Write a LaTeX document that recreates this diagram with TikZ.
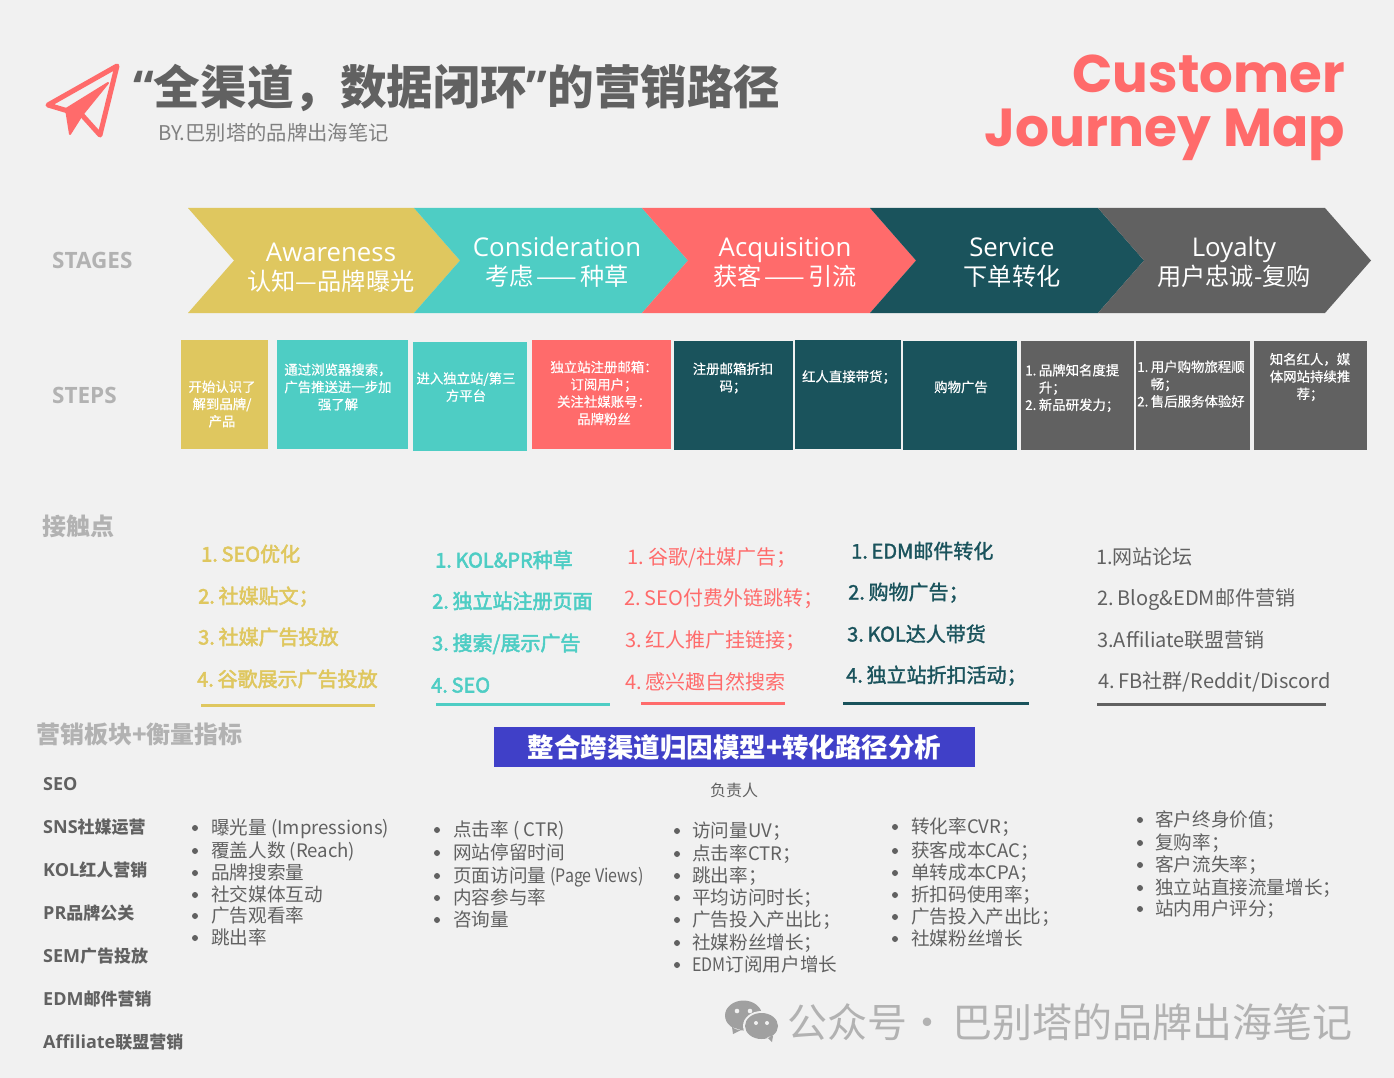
\documentclass[tikz,border=0pt]{standalone}
\usepackage{fontspec}
\setmainfont{Noto Sans CJK SC}
\newfontfamily\opensans{Open Sans}
\newfontfamily\poppins{Poppins}
\newfontfamily\fakebold[FakeBold=2.6,WordSpace=0.5]{Noto Sans CJK SC}
\newfontfamily\fakemedium[FakeBold=1.6,WordSpace=0.5]{Noto Sans CJK SC}
\newfontfamily\touchreg[WordSpace=0.5]{Noto Sans CJK SC}
\newfontfamily\stepfont[FakeBold=0.6,WordSpace=0.5]{Noto Sans CJK SC}
\newfontfamily\narrowlat[FakeStretch=0.86]{Noto Sans CJK SC}
\definecolor{bgGray}{HTML}{F1F1F1}
\definecolor{cYellow}{HTML}{DFC75F}
\definecolor{cTeal}{HTML}{4ECDC4}
\definecolor{cRed}{HTML}{FF6B6B}
\definecolor{cDark}{HTML}{1A535C}
\definecolor{cGray}{HTML}{616161}
\definecolor{cLight}{HTML}{B2B2B2}
\definecolor{cBlue}{HTML}{4040C8}
\newcommand{\fs}[1]{\fontsize{#1}{#1}\selectfont}
\tikzset{
  x=1pt,y=-1pt,
  txt/.style={inner sep=0pt,anchor=west},
  stagetxt/.style={inner sep=0pt,text=white,text height=25pt,text depth=6pt,font=\opensans\fs{25.8}},
  stagecjk/.style={inner sep=0pt,text=white,font=\fs{24.2}},
  steptxt/.style={inner sep=0pt,text=white,align=center,font=\stepfont\fontsize{13.4}{17.3}\selectfont},
  stepleft/.style={steptxt,align=left,anchor=west},
  sidelabel/.style={txt,text=cLight,font=\opensans\bfseries\fs{22.5}},
  sidehead/.style={txt,text=cLight,font=\bfseries\fs{24}},
  rolelabel/.style={txt,text=cGray,text height=15pt,text depth=2pt,font=\bfseries\fs{17}},
  touch/.style={txt,text height=18pt,text depth=3pt,font=\touchreg\fs{20}},
  touchbold/.style={touch,font=\fakebold\fs{20}},
  touchmedium/.style={touch,font=\fakemedium\fs{20}},
  brand/.style={inner sep=0pt,anchor=base east,text=cRed,font=\poppins\bfseries\fs{53}},
  rule/.style={line width=3pt},
  metric/.style={txt,text=cGray,text height=17pt,text depth=3pt,font=\fs{18.6}},
  dotmark/.style={circle,fill=cGray,inner sep=0pt,minimum size=6pt},
}
\begin{document}
\begin{tikzpicture}
\useasboundingbox (0,0) rectangle (1394,1078);
\fill[bgGray] (0,0) rectangle (1394,1078);
% plane
\draw[cRed,line width=5pt,line join=round] (117,66) -- (48,105) -- (68,111) -- (82,115) -- (100,135) -- cycle;
\fill[cRed,line join=round,draw=cRed,line width=2pt] (66,109) -- (108,83) -- (82,115) -- (70,134) -- cycle;
% title
\node (title) [txt,text=cGray,font=\bfseries\fs{46.6}] at (133,88) {{\opensans “}全渠道，数据闭环{\opensans ”}的营销路径};
\node (byline) [txt,text=gray,font=\fs{20.3}] at (158,133) {BY.巴别塔的品牌出海笔记};
\node (brandA) [brand] at (1345,93) {Customer};
\node (brandB) [brand,font=\poppins\bfseries\fs{53.5}] at (1345,147) {Journey Map};
% stages
\foreach \xa/\xb/\col in {188/414/cYellow,414/642/cTeal,642/870/cRed,870/1098/cDark,1098/1325/cGray}
  \fill[\col] (\xa,208) -- (\xb,208) -- (\xb+46,260.5) -- (\xb,313) -- (\xa,313) -- (\xa+46,260.5) -- cycle;
\node (lblStages) [sidelabel] at (52,260) {STAGES};
\node (lblSteps) [sidelabel] at (52,395) {STEPS};
\foreach \n/\x/\y/\en/\cn in {a/331/252/Awareness/认知—品牌曝光,b/557/247/Consideration/考虑\hspace{3pt}——\hspace{3pt}种草,c/785/247/Acquisition/获客\hspace{3pt}——\hspace{3pt}引流,d/1012/247/Service/下单转化,e/1234/247/Loyalty/用户忠诚-复购}{
  \node (stage\n) [stagetxt] at (\x,\y) {\en};
  \node (stagecn\n) [stagecjk] at (\x,\y+29) {\cn};
}
% steps
\foreach \n/\xa/\ya/\xb/\yb/\col in {a/181/340/268/449/cYellow,b/277/340/408/449/cTeal,c/413/342/527/451/cTeal,d/532/340/671/449/cRed,e/674/341/793/450/cDark,f/795/340/901/449/cDark,g/903/341/1017/450/cDark,h/1021/341/1134/450/cGray,i/1136/341/1250/450/cGray,j/1254/341/1367/450/cGray}
  \node (step\n) [inner sep=0pt,fill=\col,minimum width=\xb pt-\xa pt,minimum height=\yb pt-\ya pt] at ({(\xa+\xb)/2},{(\ya+\yb)/2}) {};
\node (txtA) [steptxt] at (222,404) {开始认识了\\解到品牌/\\产品};
\node (txtB) [steptxt] at (338,387) {通过浏览器搜索，\\广告推送进一步加\\强了解};
\node (txtC) [steptxt] at (466,387) {进入独立站/第三\\方平台};
\node (txtD) [steptxt] at (604,393) {独立站注册邮箱：\\订阅用户；\\关注社媒账号：\\品牌粉丝};
\node (txtE) [steptxt] at (733,378) {注册邮箱折扣\\码；};
\node (txtF) [steptxt] at (849,377) {红人直接带货；};
\node (txtG) [steptxt] at (961,387) {购物广告};
\node (txtH) [stepleft] at (1025,388) {1. 品牌知名度提\\\phantom{1. }升；\\2. 新品研发力；};
\node (txtI) [stepleft] at (1137,384) {1. 用户购物旅程顺\\\phantom{1. }畅；\\2. 售后服务体验好};
\node (txtJ) [steptxt] at (1310,377) {知名红人，媒\\体网站持续推\\荐；};
% touch points
\node (lblTouch) [sidehead] at (42,526) {接触点};
\foreach \n/\x/\y/\t in {a/201/554/1. SEO优化,b/198/596/2. 社媒贴文；,c/198/637/3. 社媒广告投放,d/197/679/4. 谷歌展示广告投放}
  \node (tpY\n) [touchbold,text=cYellow] at (\x,\y) {\t};
\foreach \n/\x/\y/\t in {a/435/560/1. KOL\&PR种草,b/432/601/2. 独立站注册页面,c/432/643/3. 搜索{/}展示广告,d/431/685/4. SEO}
  \node (tpT\n) [touchbold,text=cTeal] at (\x,\y) {\t};
\foreach \n/\x/\y/\t in {a/627/557/1.\ \ 谷歌{/}社媒广告；,b/624/598/2. SEO付费外链跳转；,c/625/640/3. 红人推广挂链接；,d/625/682/4. 感兴趣自然搜索}
  \node (tpR\n) [touch,text=cRed] at (\x,\y) {\t};
\foreach \n/\x/\y/\t in {a/851/551/1. EDM邮件转化,b/848/592/2. 购物广告；,c/847/634/3. KOL达人带货,d/846/675/4. 独立站折扣活动；}
  \node (tpD\n) [touchmedium,text=cDark] at (\x,\y) {\t};
\foreach \n/\x/\y/\t in {a/1096/557/1.网站论坛,b/1097/598/2. Blog\&EDM邮件营销,c/1097/640/3.Affiliate联盟营销,d/1098/681/4. FB社群{/}Reddit{/}Discord}
  \node (tpG\n) [touch,text=cGray] at (\x,\y) {\t};
\draw[rule,cYellow] (201,705) -- (375,705);
\draw[rule,cTeal] (436,704) -- (610,704);
\draw[rule,cRed] (641,703) -- (785,703);
\draw[rule,cDark] (843,703) -- (1029,703);
\draw[rule,cGray] (1097,704) -- (1326,704);
% metrics
\node (lblMetric) [sidehead] at (36,734) {营销板块+衡量指标};
\node (banner) [inner sep=0pt,fill=cBlue,minimum width=481pt,minimum height=40pt,text=white,font=\bfseries\fs{26.5}] at (734.5,747) {整合跨渠道归因模型+转化路径分析};
\node (owner) [text=cGray,inner sep=0pt,font=\fs{16}] at (734,790) {负责人};
\foreach \n/\y/\la/\cn in {a/784/SEO/,b/827/SNS/社媒运营,c/870/KOL/红人营销,d/913/PR/品牌公关,e/956/SEM/广告投放,f/999/EDM/邮件营销,g/1042/Affiliate/联盟营销}
  \node (role\n) [rolelabel] at (43,\y) {{\opensans\fs{18}\la}\cn};
\foreach \n/\y/\t in {a/827/曝光量 (Impressions),b/850/覆盖人数 (Reach),c/872/品牌搜索量,d/894/社交媒体互动,e/915/广告观看率,f/937/跳出率}{
  \node (dotA\n) [dotmark] at (195,\y+1) {};
  \node (metA\n) [metric] at (211,\y) {\t};
}
\foreach \n/\y/\t in {a/829/点击率 ( CTR),b/852/网站停留时间,c/875/页面访问量 {\narrowlat (Page Views)},d/897/内容参与率,e/919/咨询量}{
  \node (dotB\n) [dotmark] at (437,\y+1) {};
  \node (metB\n) [metric] at (453,\y) {\t};
}
\foreach \n/\y/\t in {a/830/访问量UV；,b/853/点击率CTR；,c/875/跳出率；,d/897/平均访问时长；,e/919/广告投入产出比；,f/942/社媒粉丝增长；,g/964/{\narrowlat EDM}订阅用户增长}{
  \node (dotC\n) [dotmark] at (677,\y+1) {};
  \node (metC\n) [metric] at (692,\y) {\t};
}
\foreach \n/\y/\t in {a/826/转化率CVR；,b/850/获客成本CAC；,c/872/单转成本CPA；,d/894/折扣码使用率；,e/916/广告投入产出比；,f/938/社媒粉丝增长}{
  \node (dotD\n) [dotmark] at (895,\y+1) {};
  \node (metD\n) [metric] at (911,\y) {\t};
}
\foreach \n/\y/\t in {a/819/客户终身价值；,b/842/复购率；,c/864/客户流失率；,d/887/独立站直接流量增长；,e/908/站内用户评分；}{
  \node (dotE\n) [dotmark] at (1140,\y+1) {};
  \node (metE\n) [metric] at (1155,\y) {\t};
}
% watermark
\fill[cLight!90!black] (743.5,1015.5) ellipse [x radius=18.5,y radius=15] (732,1027) -- (733,1034) -- (741,1030) -- cycle;
\fill[bgGray] (761.5,1026) ellipse [x radius=18.5,y radius=15];
\fill[cLight!90!black] (761.5,1026) ellipse [x radius=16.5,y radius=13] (767,1037) -- (772,1042) -- (773,1036) -- cycle;
\fill[bgGray] (737,1011) circle (2.3) (750,1011) circle (2.3) (756,1023) circle (2) (767,1023) circle (2);
\node (mark) [txt,text=cLight,font=\fs{40}] at (787,1022) {公众号·\hspace{5pt}巴别塔的品牌出海笔记};
\end{tikzpicture}
\end{document}
